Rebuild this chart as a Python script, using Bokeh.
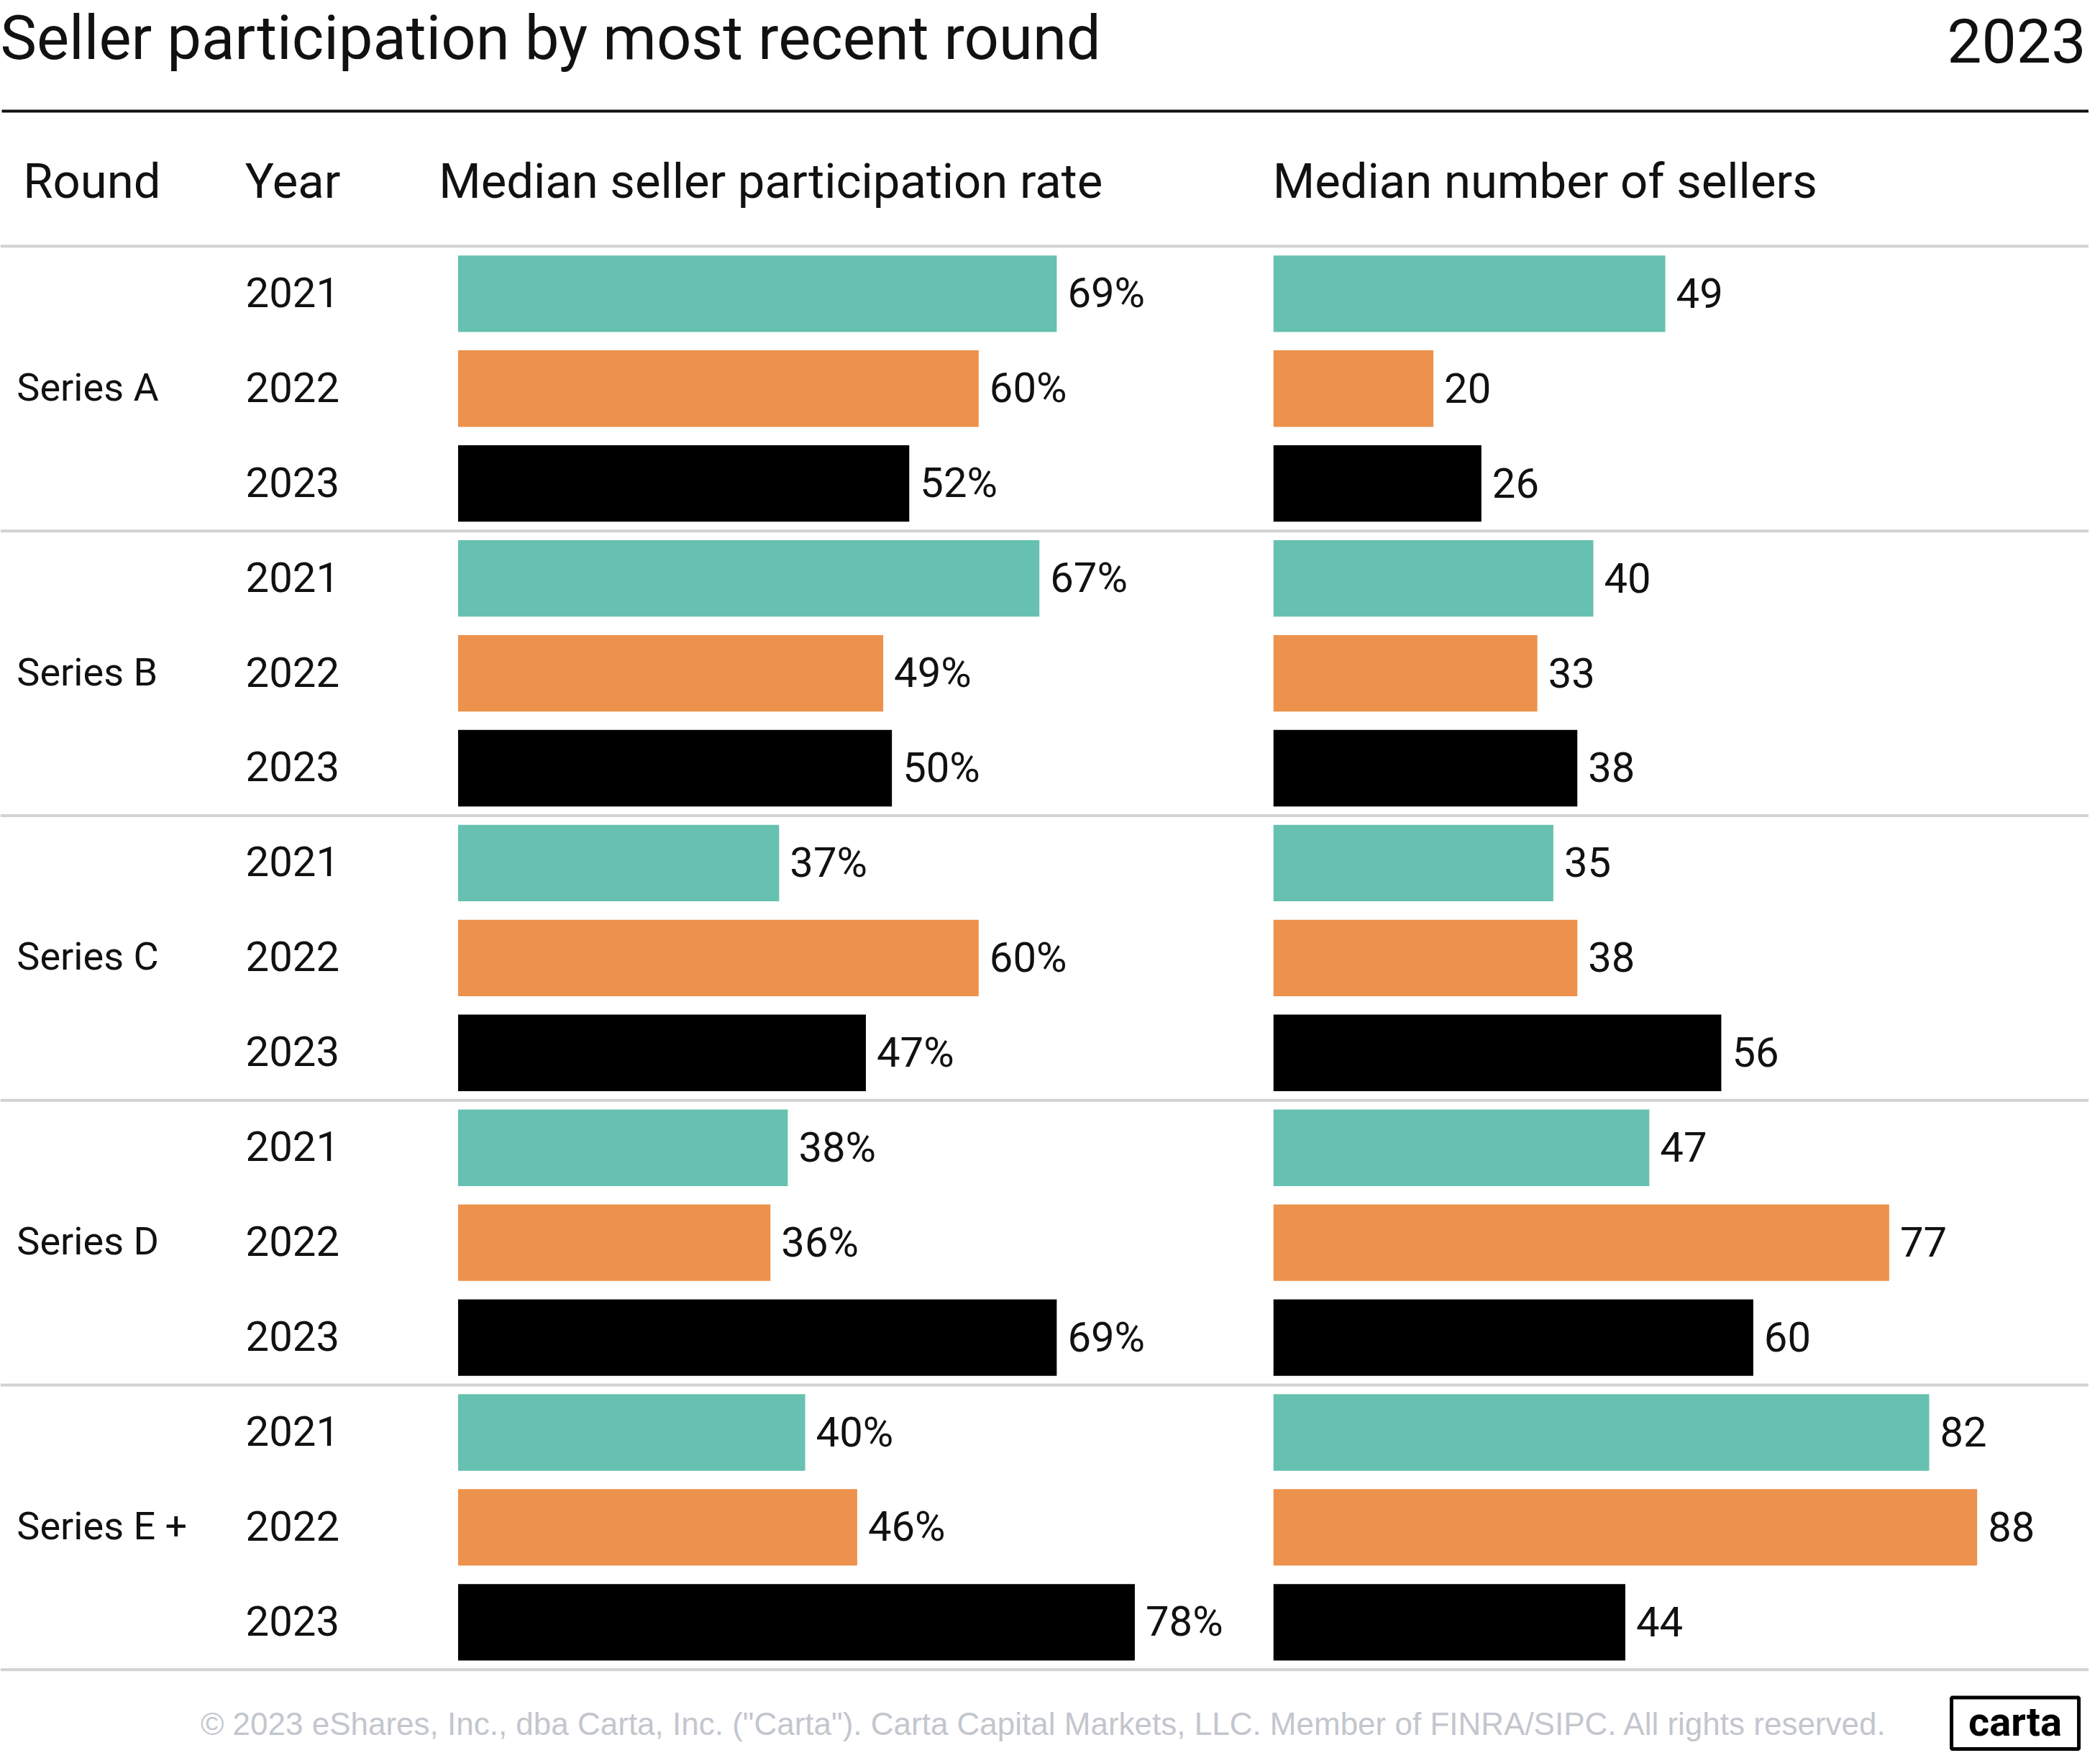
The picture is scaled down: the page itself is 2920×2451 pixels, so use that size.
from bokeh.plotting import figure
from bokeh.models import Range1d, ColumnDataSource
from bokeh.core.properties import value
from bokeh.embed import file_html
from bokeh.resources import INLINE

# ---------------- data ----------------
rounds = ["Series A", "Series B", "Series C", "Series D", "Series E +"]
years = ["2021", "2022", "2023"]
participation_2021 = [69, 67, 37, 38, 40]
participation_2022 = [60, 49, 60, 36, 46]
participation_2023 = [52, 50, 47, 69, 78]
sellers_2021 = [49, 40, 35, 47, 82]
sellers_2022 = [20, 33, 38, 77, 88]
sellers_2023 = [26, 38, 56, 60, 44]
year_colors = ["#66c1b0", "#ec924c", "#000000"]

title_text = "Seller participation by most recent round"
year_badge = "2023"
headers = ["Round", "Year", "Median seller participation rate", "Median number of sellers"]
footer_text = ('\u00a9 2023 eShares, Inc., dba Carta, Inc. ("Carta"). Carta Capital Markets, LLC. '
               'Member of FINRA/SIPC. All rights reserved.')
logo_text = "carta"

# ---------------- tables ----------------
part = [participation_2021, participation_2022, participation_2023]
sell = [sellers_2021, sellers_2022, sellers_2023]
rows, pv, sv, cols, yl = [], [], [], [], []
for g in range(len(rounds)):
    for j in range(len(years)):
        rows.append(g * 3 + j)
        pv.append(part[j][g])
        sv.append(sell[j][g])
        cols.append(year_colors[j])
        yl.append(years[j])
src = ColumnDataSource(dict(row=rows, pv=pv, sv=sv, color=cols, year=yl,
                            plab=[f"{v}%" for v in pv], slab=[str(v) for v in sv]))
grp = ColumnDataSource(dict(row=[g * 3 + 1 for g in range(len(rounds))], name=rounds))
seps = [g * 3 - 0.5 for g in range(len(rounds) + 1)]

# ---------------- figure ----------------
W, H = 2920, 2451
FONT = value("Roboto")
p = figure(width=2904, height=2435, x_range=Range1d(0, W), y_range=Range1d(H, 0),
           output_backend="svg", toolbar_location=None,
           x_axis_location=None, y_axis_location=None, min_border=0)
p.grid.visible = False
p.outline_line_color = None
p.background_fill_color = "white"
p.border_fill_color = "white"

# row axis and the two value axes
r0, pitch = 410.5, 132.8
p.extra_y_ranges = {"rows": Range1d((H - r0) / pitch, (0 - r0) / pitch)}
px0, pk = 640.0, 12.13
cx0, ck = 1780.0, 11.18
p.extra_x_ranges = {"pct": Range1d((0 - px0) / pk, (W - px0) / pk),
                    "cnt": Range1d((0 - cx0) / ck, (W - cx0) / ck)}

# lines
p.segment(x0=[2], x1=[W], y0=[155], y1=[155], line_color="#111111", line_width=4)
p.segment(x0=[0] * len(seps), x1=[W] * len(seps), y0=seps, y1=seps,
          y_range_name="rows", line_color="#d2d2d2", line_width=4)

# bars
p.hbar(y="row", left=0, right="pv", height=0.806, fill_color="color", line_color=None,
       source=src, x_range_name="pct", y_range_name="rows")
p.hbar(y="row", left=0, right="sv", height=0.806, fill_color="color", line_color=None,
       source=src, x_range_name="cnt", y_range_name="rows")

# value labels
p.text(x="pv", y="row", text="plab", source=src, x_range_name="pct", y_range_name="rows",
       x_offset=15, y_offset=-1, text_baseline="middle", text_align="left",
       text_font=FONT, text_font_size="58px", text_color="#111111")
p.text(x="sv", y="row", text="slab", source=src, x_range_name="cnt", y_range_name="rows",
       x_offset=15, y_offset=-1, text_baseline="middle", text_align="left",
       text_font=FONT, text_font_size="58px", text_color="#111111")

# row labels
p.text(x=343, y="row", text="year", source=src, y_range_name="rows", y_offset=-2,
       text_baseline="middle", text_font=FONT, text_font_size="58px", text_color="#111111")
p.text(x=23, y="row", text="name", source=grp, y_range_name="rows", y_offset=-2,
       text_baseline="middle", text_font=FONT, text_font_size="54px", text_color="#111111")

# headers
p.text(x=[32, 342, 613, 1779], y=[253] * 4, text=headers, text_baseline="middle",
       text_font=FONT, text_font_size="67px", text_color="#111111")

# title + year badge
p.text(x=[0], y=[53], text=[title_text], text_baseline="middle",
       text_font=FONT, text_font_size="85px", text_color="#111111")
p.text(x=[2916], y=[56], text=[year_badge], text_baseline="middle", text_align="right",
       text_font=FONT, text_font_size="86px", text_color="#111111")

# footer
p.text(x=[1459], y=[2412], text=[footer_text], text_baseline="middle", text_align="center",
       text_font=value("Liberation Sans"), text_font_size="44px", text_color="#c3c6cd")
p.quad(left=[2728], right=[2906], top=[2375], bottom=[2447], fill_color=None,
       line_color="#000000", line_width=5)
p.text(x=[2817], y=[2409], text=[logo_text], text_baseline="middle", text_align="center",
       text_font=FONT, text_font_style="bold", text_font_size="56px", text_color="#000000")

open("out.html", "w").write(file_html(p, INLINE))
